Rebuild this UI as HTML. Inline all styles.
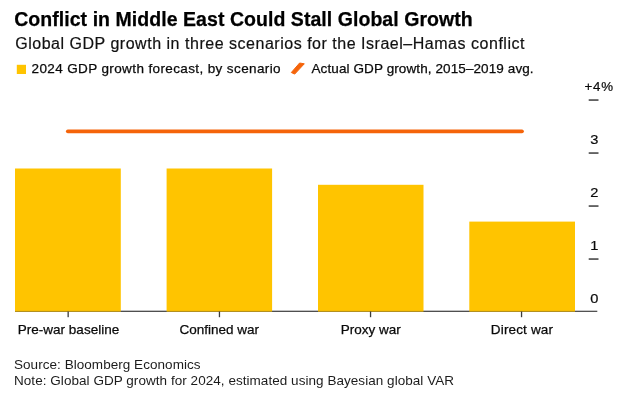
<!DOCTYPE html>
<html><head><meta charset="utf-8">
<style>
html,body{margin:0;padding:0;background:#fff;}
body{width:624px;height:403px;position:relative;overflow:hidden;font-family:"Liberation Sans",sans-serif;color:#000;}
.t{position:absolute;white-space:nowrap;line-height:1;}
#title{left:14.2px;top:9.8px;font-size:19.5px;font-weight:bold;letter-spacing:0.05px;-webkit-text-stroke:0.25px #000;}
#sub{left:15.2px;top:35.9px;font-size:16px;color:#111;-webkit-text-stroke:0.2px #111;letter-spacing:0.52px;}
.lg{font-size:13.5px;top:61.9px;color:#0a0a0a;-webkit-text-stroke:0.25px #0a0a0a;}
.xl{font-size:13.5px;top:323.4px;transform:translateX(-50%);color:#0a0a0a;-webkit-text-stroke:0.25px #0a0a0a;}
.yl{font-size:13.3px;color:#0a0a0a;-webkit-text-stroke:0.2px #0a0a0a;}
.src{font-size:13.5px;left:14px;color:#1c1c1c;letter-spacing:0.045px;}
</style></head><body>
<div class="t" id="title">Conflict in Middle East Could Stall Global Growth</div>
<div class="t" id="sub">Global GDP growth in three scenarios for the Israel–Hamas conflict</div>
<div class="t lg" id="lg1" style="left:31.5px;letter-spacing:0.38px">2024 GDP growth forecast, by scenario</div>
<div class="t lg" id="lg2" style="left:311.5px;letter-spacing:0.1px">Actual GDP growth, 2015–2019 avg.</div>
<svg width="624" height="403" style="position:absolute;left:0;top:0">
<rect x="16.8" y="64.8" width="9.2" height="9.2" fill="#ffc400"/>
<polygon points="291.3,72.5 299.6,63 304.3,63.8 294.7,74.1" fill="#f5640a" stroke="#f5640a" stroke-width="1.0" stroke-linejoin="round"/>
<rect x="15" y="310.7" width="582.3" height="1.25" fill="#4a4a4a"/>
<rect x="15" y="168.5" width="105.8" height="143.2" fill="#ffc400"/>
<rect x="166.6" y="168.5" width="105.5" height="143.2" fill="#ffc400"/>
<rect x="318" y="184.8" width="105.5" height="126.9" fill="#ffc400"/>
<rect x="469.3" y="221.6" width="105.7" height="90.1" fill="#ffc400"/>
<rect x="15" y="310.8" width="560" height="1" fill="#4a4a4a" opacity="0.22"/>
<line x1="67.8" y1="131.3" x2="522" y2="131.3" stroke="#f5640a" stroke-width="3.7" stroke-linecap="round"/>
<g fill="#3c3c3c">
<rect x="67.5" y="311.5" width="1.3" height="5.7"/>
<rect x="218.8" y="311.5" width="1.3" height="5.7"/>
<rect x="369.9" y="311.5" width="1.3" height="5.7"/>
<rect x="520.9" y="311.5" width="1.3" height="5.7"/>
<rect x="588.7" y="99.3" width="9.8" height="1.5"/>
<rect x="588.7" y="152.3" width="9.8" height="1.5"/>
<rect x="588.7" y="205.3" width="9.8" height="1.5"/>
<rect x="588.7" y="258.3" width="9.8" height="1.5"/>
</g>
</svg>
<div class="t xl" style="left:68.5px">Pre-war baseline</div>
<div class="t xl" style="left:219.3px">Confined war</div>
<div class="t xl" style="left:370.7px">Proxy war</div>
<div class="t xl" style="left:522px;letter-spacing:0.15px">Direct war</div>
<div class="t yl" id="y4" style="left:584.6px;top:80.3px;letter-spacing:0.7px">+4%</div>
<div class="t yl" id="y3" style="right:25.4px;top:133px;transform:scaleX(1.1);transform-origin:100% 50%">3</div>
<div class="t yl" id="y2" style="right:25.4px;top:186.1px;transform:scaleX(1.1);transform-origin:100% 50%">2</div>
<div class="t yl" id="y1" style="right:25.4px;top:239.0px;transform:scaleX(1.1);transform-origin:100% 50%">1</div>
<div class="t yl" id="y0" style="right:25.4px;top:292.3px;transform:scaleX(1.1);transform-origin:100% 50%">0</div>
<div class="t src" style="top:357.9px">Source: Bloomberg Economics</div>
<div class="t src" style="top:373.7px">Note: Global GDP growth for 2024, estimated using Bayesian global VAR</div>
</body></html>
